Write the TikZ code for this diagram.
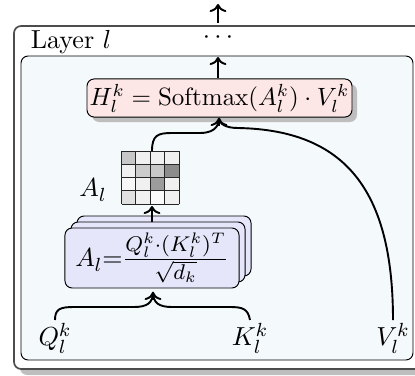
\documentclass[tikz,border=0pt]{standalone}
\usepackage{fix-cm}
\usetikzlibrary{arrows.meta}
\definecolor{innerfill}{HTML}{F4F9FC}
\definecolor{hfill}{HTML}{FDE6E6}
\definecolor{stackfill}{HTML}{E6E6FB}
\definecolor{shadowcol}{HTML}{BEBEBE}
\begin{document}
\begin{tikzpicture}[x=0.42pt,y=-0.42pt,
  every node/.style={font=\fontsize{10.95}{13.6}\selectfont},
  arr/.style={->,thick},
  flow/.style={thick},
  hbox/.style={draw,fill=hfill,rounded corners=3pt,minimum width=111.3pt,minimum height=16pt,inner sep=0pt,font=\fontsize{10.5}{12.6}\selectfont},
  sbox/.style={draw,fill=stackfill,rounded corners=3pt,minimum width=73.1pt,minimum height=25.2pt,inner sep=0pt},
  lbl/.style={inner sep=1pt}]
\useasboundingbox (0,0) rectangle (415,376);
% outer box
\fill[shadowcol,rounded corners=3pt] (20,32) rectangle (434,375);
\draw[black!70,line width=0.7pt,fill=white,rounded corners=3pt] (14,26) rectangle (428,369);
% inner box
\draw[black,fill=innerfill,rounded corners=3pt] (21,56) rectangle (413,360);
\node[lbl] (layer) at (71,42) {Layer $l$};
\node[lbl] (dots) at (218,38) {$\cdots$};
\coordinate (a0) at (218,23);
\coordinate (top) at (218,4);
\draw[arr] (a0) -- (top);
% H box
\fill[shadowcol,rounded corners=3pt] (92,84) rectangle (357,122);
\node[hbox] (H) at (219.5,98) {$H_l^k = \mathrm{Softmax}(A_l^k)\cdot V_l^k$};
\coordinate (innertop) at (218,57);
\draw[arr] (H.north -| innertop) -- (innertop);
% matrix
\node[minimum width=24.2pt,minimum height=22.3pt,inner sep=0pt] (M) at (150.3,177.5) {};
\foreach \r/\row in {0/{22,6,6,6},1/{6,20,22,45},2/{3,6,39,6},3/{12,6,2,6}}{
  \foreach \v [count=\c from 0] in \row {
    \fill[black!\v] (121.5+14.4*\c,151+13.25*\r) rectangle ++(14.4,13.25);
  }
}
\foreach \i in {0,...,4}{
  \draw[black!85] (121.5+14.4*\i,151) -- (121.5+14.4*\i,204);
  \draw[black!85] (121.5,151+13.25*\i) -- (179.1,151+13.25*\i);
}
\node[lbl] (Al) at (93,190) {$A_l$};
% stack
\node[sbox] (S3) at (164,246) {};
\node[sbox] (S2) at (158,252) {};
\node[sbox] (S1) at (152,258) {$A_l{=}$\fontsize{12.8}{15}\selectfont$\frac{Q_l^k\cdot(K_l^k)^T}{\sqrt{d_k}}$};
\coordinate (mb) at (152,206);
\draw[arr] (S2.north -| mb) -- (mb);
% inputs
\node[lbl] (Q) at (55,338) {$Q_l^k$};
\node[lbl] (K) at (250,338) {$K_l^k$};
\node[lbl] (V) at (393,338) {$V_l^k$};
\coordinate (b1) at (153,292);
\coordinate (h1) at (219,118);
\coordinate (m1) at (152,151);
\draw[flow] (Q.north) .. controls (55,309) and (60,307) .. (74,307) -- (134,307) .. controls (147,307) and (153,303) .. (b1);
\draw[flow] (K.north) .. controls (248,309) and (243,307) .. (230,307) -- (172,307) .. controls (159,307) and (153,303) .. (b1);
\draw[arr] (153,300) -- (b1);
\draw[flow] (m1) .. controls (152,135) and (158,133) .. (172,133) -- (200,133) .. controls (212,133) and (219,128) .. (h1);
\draw[flow] (V.north) .. controls (393,190) and (345,130) .. (238,128) .. controls (226,128) and (219,124) .. (h1);
\draw[arr] (219,126) -- (h1);
\end{tikzpicture}
\end{document}
